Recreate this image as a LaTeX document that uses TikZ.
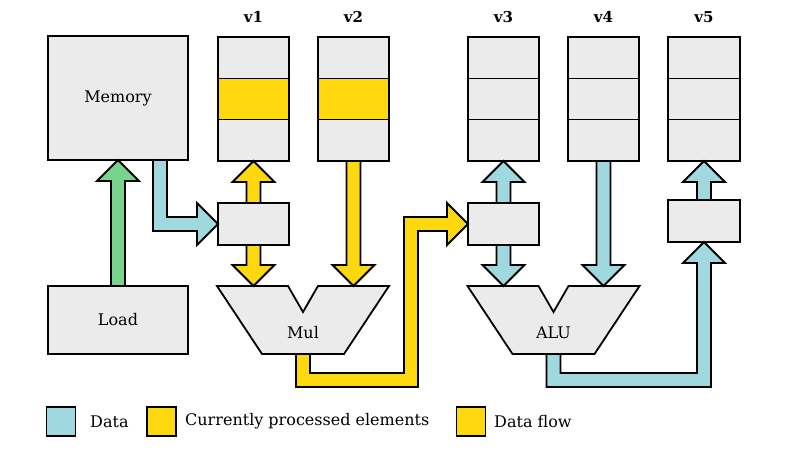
\documentclass[tikz,border=0pt]{standalone}
\usepackage{fontspec}
\setmainfont{DejaVu Serif}
\usetikzlibrary{calc}
\definecolor{cgray}{HTML}{EBEBEB}
\definecolor{cyel}{HTML}{FDD80F}
\definecolor{cblue}{HTML}{A0D8DF}
\definecolor{cgreen}{HTML}{78D48C}
% straight fat arrows: #1 colour, #2 start, #3 tip (same x)
\newcommand\fatup[3]{\draw[fat,fill=#1] ($(#2)+(-7,0)$) -- ($(#3)+(-7,21)$) -- ($(#3)+(-21,21)$) -- (#3) -- ($(#3)+(21,21)$) -- ($(#3)+(7,21)$) -- ($(#2)+(7,0)$) -- cycle;}
\newcommand\fatdown[3]{\draw[fat,fill=#1] ($(#2)+(-7,0)$) -- ($(#3)+(-7,-21)$) -- ($(#3)+(-21,-21)$) -- (#3) -- ($(#3)+(21,-21)$) -- ($(#3)+(7,-21)$) -- ($(#2)+(7,0)$) -- cycle;}
\newcommand\regcells[2]{%
  \fill[#2] ($(#1.north west)!1/3!(#1.south west)$) rectangle ($(#1.north east)!2/3!(#1.south east)$);
  \draw[line width=1pt] ($(#1.north west)!1/3!(#1.south west)$) -- ($(#1.north east)!1/3!(#1.south east)$);
  \draw[line width=1pt] ($(#1.north west)!2/3!(#1.south west)$) -- ($(#1.north east)!2/3!(#1.south east)$);
  \draw[line width=1.8pt] (#1.north west) rectangle (#1.south east);}
\newcommand\alushape[1]{\draw[box] ($(#1)+(-86,0)$) -- ($(#1)+(-15,0)$) -- ($(#1)+(0,26)$) -- ($(#1)+(15,0)$) -- ($(#1)+(86,0)$) -- ($(#1)+(41,68)$) -- ($(#1)+(-41,68)$) -- cycle;}
\begin{document}
\begin{tikzpicture}[x=1pt,y=-1pt,line join=miter,
  box/.style={draw=black,fill=cgray,line width=1.8pt,inner sep=0pt,outer sep=0pt},
  reg/.style={box,minimum width=71pt,minimum height=124pt},
  smallbox/.style={box,minimum width=71pt,minimum height=42pt},
  bigbox/.style={box,minimum width=140pt},
  lbl/.style={font=\fontsize{16}{19}\selectfont,inner sep=0pt},
  fat/.style={draw=black,line width=1.8pt},
  legbox/.style={draw=black,line width=1.8pt,minimum width=29pt,minimum height=29pt,inner sep=0pt,outer sep=0pt}]
\useasboundingbox (0,0) rectangle (800,450);

% memory and load
\node[bigbox,minimum height=124pt] (mem) at (118,98) {};
\node[lbl] (memt) at (mem) {Memory};
\node[bigbox,minimum height=68pt] (load) at (118,320) {};
\node[lbl] (loadt) at (load) {Load};

% registers
\node[reg] (v1) at (253.5,99) {};
\node[reg] (v2) at (353.5,99) {};
\node[reg] (v3) at (503.5,99) {};
\node[reg] (v4) at (603.5,99) {};
\node[reg,minimum width=72pt] (v5) at (704,99) {};
\regcells{v1}{cyel}
\regcells{v2}{cyel}
\regcells{v3}{cgray}
\regcells{v4}{cgray}
\regcells{v5}{cgray}
\foreach \r/\t in {v1/v1,v2/v2,v3/v3,v4/v4,v5/v5}
  \node[lbl,font=\bfseries\fontsize{15}{18}\selectfont] (lab\r) at ($(\r.north)+(0,-20)$) {\t};

% small boxes
\node[smallbox] (b1) at (253.5,224) {};
\node[smallbox] (b3) at (503.5,224) {};
\node[smallbox,minimum width=72pt] (b5) at (704,221) {};

% Mul and ALU
\coordinate (mul) at (303,286);
\coordinate (alu) at (553.5,286);
\alushape{mul}
\alushape{alu}
\node[lbl] (mult) at ($(mul)+(0,47)$) {Mul};
\node[lbl] (alut) at ($(alu)+(0,47)$) {ALU};
\coordinate (mulL) at (b1.south |- mul);
\coordinate (mulR) at (v2.south |- mul);
\coordinate (aluL) at (b3.south |- alu);
\coordinate (aluR) at (v4.south |- alu);
\coordinate (mulout) at ($(mul)+(0,68)$);
\coordinate (aluout) at ($(alu)+(0,68)$);

% arrows
\fatup{cgreen}{load.north}{mem.south}
\coordinate (ms) at ($(mem.south east)+(-28,0)$);
\draw[fat,fill=cblue] ($(ms)+(-7,0)$) -- ($(ms |- b1.west)+(-7,7)$) -- ($(b1.west)+(-21,7)$) -- ($(b1.west)+(-21,21)$) -- (b1.west) -- ($(b1.west)+(-21,-21)$) -- ($(b1.west)+(-21,-7)$) -- ($(ms |- b1.west)+(7,-7)$) -- ($(ms)+(7,0)$) -- cycle;
\fatup{cyel}{b1.north}{v1.south}
\fatdown{cyel}{b1.south}{mulL}
\fatdown{cyel}{v2.south}{mulR}
\coordinate (c1) at ($(mulout)+(0,26)$);
\coordinate (c2) at (411,380);
\coordinate (c3) at (c2 |- b3.west);
\draw[fat,fill=cyel] ($(mulout)+(-7,0)$) -- ($(c1)+(-7,7)$) -- ($(c2)+(7,7)$) -- ($(c3)+(7,7)$) -- ($(b3.west)+(-21,7)$) -- ($(b3.west)+(-21,21)$) -- (b3.west) -- ($(b3.west)+(-21,-21)$) -- ($(b3.west)+(-21,-7)$) -- ($(c3)+(-7,-7)$) -- ($(c2)+(-7,-7)$) -- ($(c1)+(7,-7)$) -- ($(mulout)+(7,0)$) -- cycle;
\fatup{cblue}{b3.north}{v3.south}
\fatdown{cblue}{b3.south}{aluL}
\fatdown{cblue}{v4.south}{aluR}
\coordinate (d1) at ($(aluout)+(0,26)$);
\coordinate (d2) at (b5.south |- d1);
\draw[fat,fill=cblue] ($(aluout)+(-7,0)$) -- ($(d1)+(-7,7)$) -- ($(d2)+(7,7)$) -- ($(b5.south)+(7,21)$) -- ($(b5.south)+(21,21)$) -- (b5.south) -- ($(b5.south)+(-21,21)$) -- ($(b5.south)+(-7,21)$) -- ($(d2)+(-7,-7)$) -- ($(d1)+(7,-7)$) -- ($(aluout)+(7,0)$) -- cycle;
\fatup{cblue}{b5.north}{v5.south}

% legend
\node[legbox,fill=cblue] (lg1) at (61,421.5) {};
\node[lbl,anchor=west] (lt1) at (90,421.5) {Data};
\node[legbox,fill=cyel] (lg2) at (161.5,421.5) {};
\node[lbl,anchor=west] (lt2) at (185,421.5) {Currently processed elements};
\node[legbox,fill=cyel] (lg3) at (471,421.5) {};
\node[lbl,anchor=west] (lt3) at (494,421.5) {Data flow};
\end{tikzpicture}
\end{document}
